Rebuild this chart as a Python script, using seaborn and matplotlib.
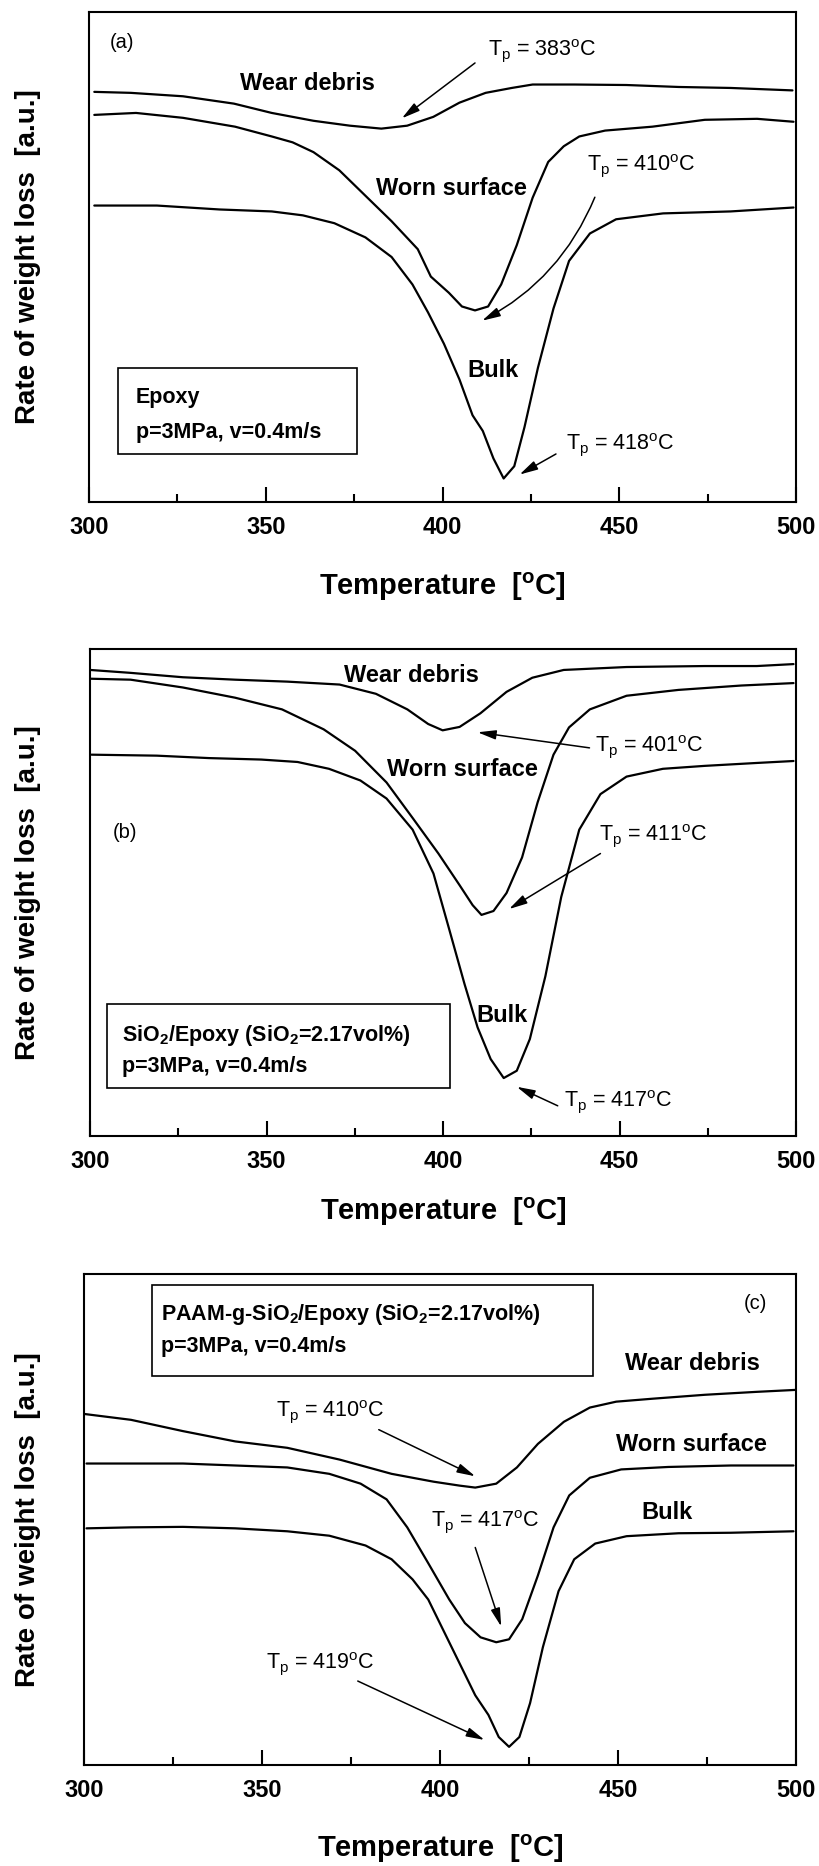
import matplotlib
matplotlib.use("Agg")
import matplotlib.pyplot as plt
import numpy as np
import pandas as pd
import seaborn as sns
from matplotlib.patches import Rectangle
from matplotlib.ticker import MultipleLocator

# ---------------- data (temperature in degC, rate in % of panel height) ----------------
curve_names = ["Wear debris", "Worn surface", "Bulk"]

# panel (a) Epoxy
a_debris_T = [301.5, 311.8, 326.6, 341.0, 351.7, 363.5, 373.8, 382.7, 390.0, 397.4, 404.8, 412.2, 419.6, 425.5, 437.3, 452.0, 466.8, 481.5, 499.0]
a_debris_r = [83.7, 83.5, 82.8, 81.3, 79.4, 77.8, 76.8, 76.2, 76.8, 78.6, 81.5, 83.5, 84.5, 85.2, 85.2, 85.1, 84.7, 84.5, 84.0]
a_worn_T = [301.5, 313.3, 326.6, 341.3, 351.7, 357.6, 363.5, 370.8, 378.2, 385.6, 393.0, 396.7, 401.8, 405.5, 409.2, 412.9, 416.6, 421.0, 425.5, 429.9, 434.3, 438.7, 446.0, 459.4, 474.2, 489.0, 499.3]
a_worn_r = [79.0, 79.4, 78.4, 76.6, 74.6, 73.4, 71.4, 67.7, 62.5, 57.3, 51.6, 46.0, 42.7, 39.9, 39.1, 39.9, 44.4, 52.4, 62.1, 69.4, 72.6, 74.6, 75.8, 76.6, 78.0, 78.2, 77.6]
a_bulk_T = [301.5, 319.2, 336.9, 351.7, 360.5, 369.4, 378.2, 385.6, 391.5, 395.9, 400.4, 404.8, 408.5, 411.4, 414.4, 417.3, 420.3, 423.2, 427.0, 431.4, 435.8, 441.7, 449.1, 462.4, 481.5, 499.3]
a_bulk_r = [60.5, 60.5, 59.7, 59.3, 58.5, 56.9, 54.0, 50.0, 44.4, 38.7, 32.3, 25.0, 17.7, 14.5, 8.9, 4.8, 7.3, 15.3, 27.4, 39.5, 49.2, 54.8, 57.7, 58.9, 59.3, 60.1]

# panel (b) SiO2/Epoxy
b_debris_T = [300.0, 311.5, 326.3, 341.1, 355.9, 370.7, 381.0, 389.9, 395.8, 399.9, 404.7, 410.6, 418.0, 425.3, 434.2, 452.0, 474.1, 488.9, 499.3]
b_debris_r = [95.7, 95.1, 94.2, 93.7, 93.3, 92.7, 90.8, 87.6, 84.6, 83.3, 84.0, 86.8, 91.2, 94.1, 95.7, 96.3, 96.5, 96.5, 96.9]
b_worn_T = [300.0, 311.5, 326.3, 341.1, 354.4, 366.2, 375.1, 384.0, 391.4, 398.7, 404.7, 408.4, 410.9, 414.3, 418.0, 422.4, 426.8, 431.3, 435.7, 441.6, 452.0, 466.7, 484.5, 499.3]
b_worn_r = [93.9, 93.7, 92.1, 90.0, 87.6, 83.5, 79.1, 72.6, 65.3, 58.0, 51.5, 47.4, 45.4, 46.2, 49.9, 57.2, 68.5, 78.3, 83.9, 87.6, 90.4, 91.6, 92.5, 93.0]
b_bulk_T = [300.4, 318.9, 333.7, 348.5, 358.8, 367.7, 376.6, 384.0, 391.4, 397.3, 401.7, 406.1, 409.8, 413.5, 417.2, 420.9, 424.6, 429.0, 433.5, 438.6, 444.6, 452.0, 462.3, 474.1, 488.9, 499.3]
b_bulk_r = [78.3, 78.1, 77.6, 77.3, 76.8, 75.4, 73.0, 69.3, 62.9, 53.9, 42.6, 31.2, 22.3, 15.8, 11.9, 13.4, 19.9, 32.8, 49.1, 62.9, 70.2, 73.8, 75.4, 76.0, 76.6, 77.0]

# panel (c) PAAM-g-SiO2/Epoxy
c_debris_T = [300.0, 313.2, 327.8, 342.5, 357.1, 371.8, 386.4, 398.2, 405.5, 409.9, 415.8, 421.6, 427.5, 434.8, 442.1, 449.5, 459.7, 474.4, 489.0, 500.0]
c_debris_r = [71.5, 70.3, 68.0, 65.9, 64.6, 62.2, 59.3, 57.7, 56.9, 56.5, 57.3, 60.6, 65.4, 69.9, 72.8, 74.0, 74.6, 75.4, 76.0, 76.4]
c_worn_T = [300.7, 313.2, 327.8, 342.5, 357.1, 368.9, 377.7, 385.0, 390.8, 396.7, 402.6, 407.0, 411.4, 415.8, 419.4, 423.1, 427.5, 431.9, 436.3, 442.1, 450.9, 464.1, 481.7, 499.3]
c_worn_r = [61.4, 61.4, 61.4, 61.0, 60.6, 59.3, 57.3, 54.1, 48.4, 41.1, 33.7, 28.9, 26.0, 25.0, 25.6, 29.7, 38.6, 48.4, 54.9, 58.5, 60.2, 60.7, 61.0, 61.0]
c_bulk_T = [300.7, 313.2, 327.8, 342.5, 357.1, 368.9, 379.1, 386.4, 392.3, 396.7, 401.1, 405.5, 409.9, 413.6, 416.5, 419.4, 422.3, 425.3, 428.9, 433.3, 437.7, 443.6, 452.4, 467.0, 481.7, 499.3]
c_bulk_r = [48.2, 48.4, 48.5, 48.2, 47.6, 46.7, 44.7, 41.9, 37.8, 33.7, 27.2, 20.7, 14.2, 10.2, 5.7, 3.7, 5.7, 12.6, 24.0, 35.4, 41.9, 45.1, 46.6, 47.2, 47.3, 47.6]

x_ticks = [300, 350, 400, 450, 500]
x_label = r"Temperature  [$^{\mathbf{o}}$C]"
y_label = "Rate of weight loss  [a.u.]"
panel_tags = ["(a)", "(b)", "(c)"]
box_lines = [
    ["Epoxy", "p=3MPa, v=0.4m/s"],
    [r"SiO$_{\mathbf{2}}$/Epoxy (SiO$_{\mathbf{2}}$=2.17vol%)", "p=3MPa, v=0.4m/s"],
    [r"PAAM-g-SiO$_{\mathbf{2}}$/Epoxy (SiO$_{\mathbf{2}}$=2.17vol%)", "p=3MPa, v=0.4m/s"],
]
peak_labels = [
    ["383", "410", "418"],
    ["401", "411", "417"],
    ["410", "417", "419"],
]

# ---------------- style ----------------
sns.set_theme(style="white")
plt.rcParams["font.family"] = ["Liberation Sans", "DejaVu Sans"]
plt.rcParams["mathtext.fontset"] = "custom"
plt.rcParams["mathtext.rm"] = "Liberation Sans"
plt.rcParams["mathtext.it"] = "Liberation Sans:italic"
plt.rcParams["mathtext.bf"] = "Liberation Sans:bold"
for k in ["text.color", "axes.labelcolor", "xtick.color", "ytick.color", "axes.edgecolor"]:
    plt.rcParams[k] = "black"

W, H = 820, 1866
fig = plt.figure(figsize=(W / 100, H / 100), dpi=100)
fig.patch.set_facecolor("white")


def px_axes(left, right, top, bottom):
    return fig.add_axes([left / W, 1 - bottom / H, (right - left) / W, (bottom - top) / H])


axes_px = [(89, 796, 12, 502), (90, 796, 649, 1136), (84, 796, 1274, 1765)]
xlabel_pads = [23, 16, 22]

all_T = [[a_debris_T, a_worn_T, a_bulk_T], [b_debris_T, b_worn_T, b_bulk_T], [c_debris_T, c_worn_T, c_bulk_T]]
all_r = [[a_debris_r, a_worn_r, a_bulk_r], [b_debris_r, b_worn_r, b_bulk_r], [c_debris_r, c_worn_r, c_bulk_r]]

axes = []
for i, (l, r, t, b) in enumerate(axes_px):
    ax = px_axes(l, r, t, b)
    axes.append(ax)
    frames = []
    for T, rr, name in zip(all_T[i], all_r[i], curve_names):
        frames.append(pd.DataFrame({"Temperature": T, "Rate": rr, "Curve": name}))
    df = pd.concat(frames, ignore_index=True)
    sns.lineplot(data=df, x="Temperature", y="Rate", hue="Curve", units="Curve",
                 estimator=None, palette={n: "black" for n in curve_names},
                 legend=False, linewidth=1.6, ax=ax, sort=False)
    ax.set_xlim(300, 500)
    ax.set_ylim(0, 100)
    ax.set_yticks([])
    ax.set_xticks(x_ticks)
    ax.xaxis.set_minor_locator(MultipleLocator(25))
    ax.tick_params(axis="x", which="both", bottom=True, top=False, direction="in",
                   width=1.5, pad=10, labelsize=17)
    ax.tick_params(axis="x", which="major", length=11)
    ax.tick_params(axis="x", which="minor", length=6)
    for lab in ax.get_xticklabels():
        lab.set_fontweight("bold")
    for s in ax.spines.values():
        s.set_linewidth(1.5)
        s.set_color("black")
    ax.set_xlabel(x_label, fontsize=21, fontweight="bold", labelpad=xlabel_pads[i])
    ax.set_ylabel(y_label, fontsize=20, fontweight="bold")
    ax.yaxis.set_label_coords((41 - l) / (r - l), 0.5)

arrow_kw = dict(arrowstyle="-|>,head_length=1.1,head_width=0.28", mutation_scale=10,
                color="black", lw=1.1, shrinkA=0, shrinkB=0)


def tp_text(ax, x, y, val):
    ax.text(x, y, r"T$_{\mathrm{p}}$ = " + val + r"$^{\mathrm{o}}$C", fontsize=15.5,
            ha="left", va="center")


def arrow(ax, tail, tip, rad=0.0):
    kw = dict(arrow_kw)
    kw["connectionstyle"] = f"arc3,rad={rad}"
    ax.annotate("", xy=tip, xytext=tail, arrowprops=kw)


def curve_label(ax, x, y, s):
    ax.text(x, y, s, fontsize=17, fontweight="bold", ha="center", va="center")


def box(ax, x0, y0, w, h, lines, tx, ty1, ty2):
    ax.add_patch(Rectangle((x0, y0), w, h, transform=ax.transAxes, fill=False,
                           edgecolor="black", lw=1.2, zorder=3))
    ax.text(tx, ty1, lines[0], transform=ax.transAxes, fontsize=15.5, fontweight="bold",
            ha="left", va="baseline")
    ax.text(tx, ty2, lines[1], transform=ax.transAxes, fontsize=15.5, fontweight="bold",
            ha="left", va="baseline")


# panel (a)
ax = axes[0]
ax.text(305.9, 93.7, panel_tags[0], fontsize=14.5, ha="left", va="center")
curve_label(ax, 361.7, 85.5, curve_names[0])
curve_label(ax, 402.6, 63.9, curve_names[1])
curve_label(ax, 414.4, 26.8, curve_names[2])
tp_text(ax, 412.9, 92.2, peak_labels[0][0])
arrow(ax, (409.2, 89.6), (388.5, 78.3))
tp_text(ax, 440.9, 68.7, peak_labels[0][1])
arrow(ax, (443.1, 62.2), (411.2, 37.0), rad=-0.18)
tp_text(ax, 435.0, 11.7, peak_labels[0][2])
arrow(ax, (432.1, 9.8), (421.8, 5.6))
box(ax, 0.041, 0.098, 0.338, 0.175, box_lines[0], 0.066, 0.202, 0.131)

# panel (b)
ax = axes[1]
ax.text(306.4, 62.3, panel_tags[1], fontsize=14.5, ha="left", va="center")
curve_label(ax, 391.0, 94.6, curve_names[0])
curve_label(ax, 405.4, 75.2, curve_names[1])
curve_label(ax, 416.7, 24.7, curve_names[2])
tp_text(ax, 443.1, 79.9, peak_labels[1][0])
arrow(ax, (441.5, 79.7), (409.8, 82.9))
tp_text(ax, 444.3, 61.6, peak_labels[1][1])
arrow(ax, (444.6, 58.0), (418.7, 46.6))
tp_text(ax, 434.2, 7.1, peak_labels[1][2])
arrow(ax, (432.5, 6.2), (420.9, 10.1))
box(ax, 0.024, 0.099, 0.486, 0.172, box_lines[1], 0.046, 0.195, 0.132)

# panel (c)
ax = axes[2]
ax.text(485.3, 93.9, panel_tags[2], fontsize=14.5, ha="left", va="center")
curve_label(ax, 471.0, 81.7, curve_names[0])
curve_label(ax, 470.7, 65.3, curve_names[1])
curve_label(ax, 463.7, 51.5, curve_names[2])
tp_text(ax, 353.9, 72.0, peak_labels[2][0])
arrow(ax, (382.8, 68.3), (409.9, 58.8))
tp_text(ax, 397.4, 49.6, peak_labels[2][1])
arrow(ax, (409.9, 44.3), (417.2, 28.2))
tp_text(ax, 351.0, 20.7, peak_labels[2][2])
arrow(ax, (376.9, 17.1), (412.5, 5.1))
box(ax, 0.0955, 0.792, 0.62, 0.186, box_lines[2], 0.108, 0.906, 0.841)

fig.savefig("out.png", dpi=100, facecolor="white")
